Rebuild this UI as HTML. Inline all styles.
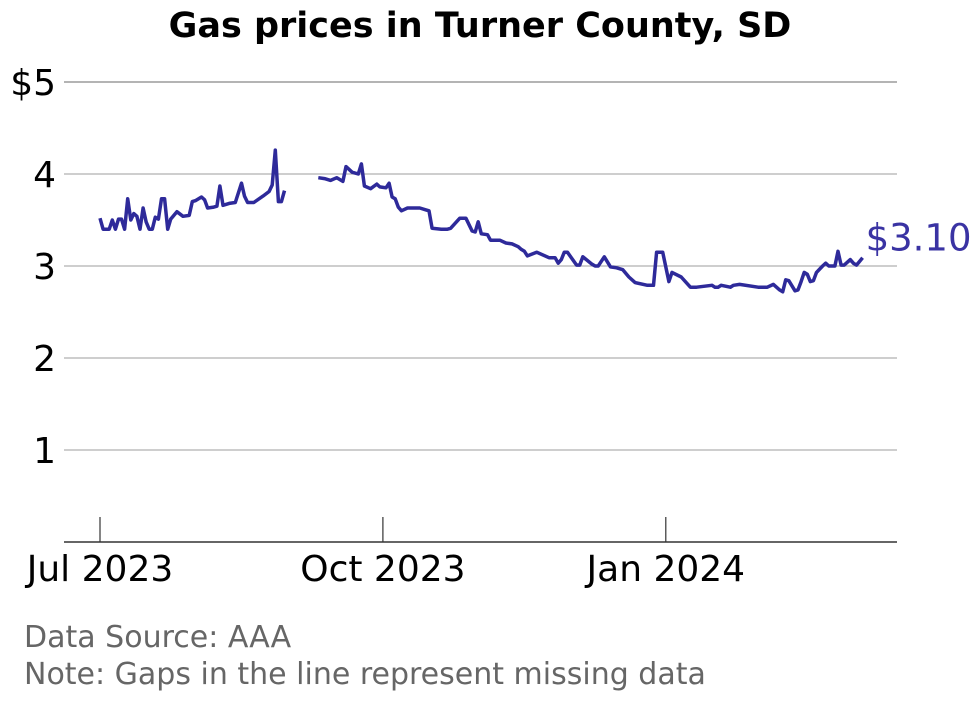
<!DOCTYPE html>
<html><head><meta charset="utf-8"><style>
body{margin:0;background:#fff;}
svg text{font-family:"DejaVu Sans","Liberation Sans",sans-serif;}
</style></head><body>
<svg width="980" height="699" viewBox="0 0 980 699">
<text x="480" y="37" text-anchor="middle" font-size="35" font-weight="bold" fill="#000">Gas prices in Turner County, SD</text>
<g id="grid"></g>
<g id="axes"></g>
<path id="line" fill="none" stroke="#2e2a9a" stroke-width="3.5" stroke-linejoin="round"></path>
<text id="endlabel" font-size="37" fill="#3a33a3"></text>
<text x="24" y="647" font-size="30" fill="#666">Data Source: AAA</text>
<text x="24" y="684" font-size="30" fill="#666">Note: Gaps in the line represent missing data</text>
</svg>
<script>
// days since 2023-07-01; null price = gap
const days = [0,1,3,4,5,6,7,8,9,10,11,12,13,14,15,16,17,18,19,20,21,22,23,25,27,29,30,31,33,34,35,37,38,39,40,42,44,46,47,48,50,53,55,56,57,58,59,60,
65,
71,73,75,77,79,80,82,84,85,86,88,90,91,93,94,95,96,97,98,100,101,104,106,107,108,111,113,114,117,119,121,122,123,124,126,127,130,132,134,136,137,138,139,142,146,148,149,150,151,152,155,156,157,160,161,162,164,166,168,170,172,174,178,179,180,181,183,185,186,189,192,193,194,199,200,201,202,205,206,208,214,215,217,219,220,221,222,223,224,226,227,228,229,230,231,232,233,235,236,237,238,239,240,241,242,244,245,246,248];
const prices = [3.52,3.40,3.40,3.50,3.40,3.51,3.51,3.40,3.73,3.50,3.57,3.54,3.40,3.63,3.48,3.40,3.40,3.53,3.51,3.73,3.73,3.40,3.51,3.59,3.54,3.55,3.70,3.71,3.75,3.72,3.63,3.64,3.65,3.87,3.66,3.68,3.69,3.90,3.76,3.69,3.69,3.76,3.81,3.88,4.26,3.70,3.70,3.82,
null,
3.96,3.95,3.93,3.96,3.92,4.08,4.02,4.00,4.11,3.87,3.84,3.89,3.86,3.85,3.90,3.75,3.73,3.64,3.60,3.63,3.63,3.63,3.61,3.60,3.41,3.40,3.40,3.41,3.52,3.52,3.38,3.37,3.48,3.35,3.34,3.28,3.28,3.25,3.24,3.21,3.18,3.16,3.11,3.15,3.09,3.09,3.03,3.07,3.15,3.15,3.01,3.01,3.10,3.02,3.00,3.00,3.10,2.99,2.98,2.96,2.88,2.82,2.79,2.79,2.79,3.15,3.15,2.83,2.93,2.88,2.77,2.77,2.77,2.79,2.77,2.77,2.79,2.77,2.79,2.80,2.77,2.77,2.77,2.80,2.77,2.74,2.72,2.85,2.84,2.73,2.74,2.83,2.93,2.91,2.83,2.84,2.93,3.00,3.03,3.00,3.00,3.00,3.16,3.01,3.01,3.07,3.03,3.01,3.09,3.15,3.07,3.10];
const yTicks = [1,2,3,4,5];
const yTickLabels = ["1","2","3","4","$5"];
const xTickDays = [0,92,184];
const xTickLabels = ["Jul 2023","Oct 2023","Jan 2024"];
const lastLabel = "$3.10";

const NS="http://www.w3.org/2000/svg";
const xS=d=>100+d*3.075;
const yS=v=>542-v*92;
const grid=document.getElementById('grid'), axes=document.getElementById('axes');
function mk(tag,attrs,parent){const e=document.createElementNS(NS,tag);for(const k in attrs)e.setAttribute(k,attrs[k]);parent.appendChild(e);return e;}
yTicks.forEach((v,i)=>{
  const l=mk('line',{x1:64,x2:897,y1:yS(v),y2:yS(v),stroke:i===yTicks.length-1?'#888':'#b0b0b0','stroke-width':1.2},grid);
  
  
  const t=mk('text',{x:56,y:yS(v)+13,'text-anchor':'end','font-size':36,fill:'#000'},axes);
  t.textContent=yTickLabels[i];
  
  
});
const ax=mk('line',{x1:64,x2:897,y1:542,y2:542,stroke:'#333','stroke-width':1.5},axes);


xTickDays.forEach((d,i)=>{
  const tk=mk('line',{x1:xS(d),x2:xS(d),y1:517,y2:542,stroke:'#333','stroke-width':1.2},axes);
  
  
  const t=mk('text',{x:xS(d),y:581,'text-anchor':'middle','font-size':36,fill:'#000'},axes);
  t.textContent=xTickLabels[i];
  
  
});
let p='',pen=false,lx=0,ly=0;
days.forEach((d,i)=>{
  const v=prices[i];
  if(v===null){pen=false;return;}
  lx=xS(d);ly=yS(v);
  p+=(pen?'L':'M')+lx.toFixed(1)+','+ly.toFixed(1);
  pen=true;
});
document.getElementById('line').setAttribute('d',p);
const el=document.getElementById('endlabel');
el.setAttribute('x',lx+3);el.setAttribute('y',ly-7);el.textContent=lastLabel;
</script>
</body></html>
